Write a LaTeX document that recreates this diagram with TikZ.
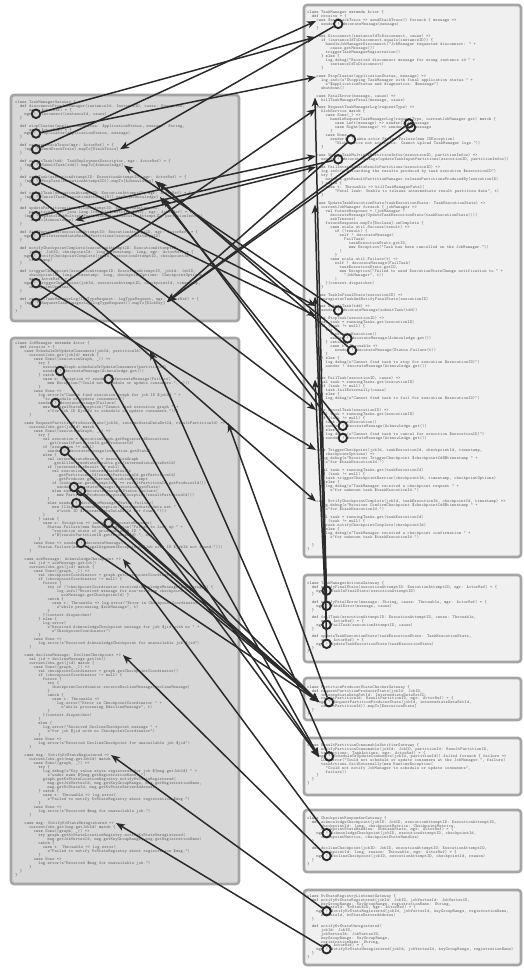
\documentclass[tikz,border=0pt]{standalone}
\usetikzlibrary{arrows.meta}

\definecolor{leftfill}{HTML}{D7D7D7}
\definecolor{rightfill}{HTML}{F0F0F0}
\definecolor{frame}{HTML}{A5A5A5}
\definecolor{ink}{HTML}{2B2B2B}
\definecolor{codeink}{HTML}{666666}

\newlength{\codechar}
\setlength{\codechar}{2.31pt}
\newcommand{\kw}[1]{\textbf{#1}}
\newcommand{\cind}[1]{\hspace*{#1\codechar}}
% one paragraph per listing, lines ended with \\ (line pitch as first argument)
\newcommand{\codeblock}[2]{\parbox[t]{300pt}{\fontsize{4.4}{#1}\selectfont\ttfamily
    \lineskiplimit=-100pt\lineskip=0pt\color{codeink}#2}}

\begin{document}
\begin{tikzpicture}[x=1pt, y=-1pt,
    panelL/.style={draw=frame, line width=2.6pt, fill=leftfill, rounded corners=3pt},
    panelR/.style={draw=frame, line width=2.6pt, fill=rightfill, rounded corners=3pt},
    code/.style={anchor=north west, inner sep=0pt},
    port/.style={circle, draw=ink, line width=1.9pt, minimum size=8.5pt, inner sep=0pt},
    msg/.style={draw=ink, line width=1.5pt, -{Stealth[length=9pt, width=7pt, inset=2.5pt]}}]
    \useasboundingbox (0,0) rectangle (524,968);

    % Draw the two sender-side panels and the six receiver-side panels
    \draw[panelL] (11,95) rectangle (239,321);
    \draw[panelL] (11,338) rectangle (239,884);
    \draw[panelR] (304,5) rectangle (521,557);
    \draw[panelR] (304,575) rectangle (521,662);
    \draw[panelR] (304,678) rectangle (521,720);
    \draw[panelR] (304,738) rectangle (521,795);
    \draw[panelR] (304,810) rectangle (521,872);
    \draw[panelR] (304,890) rectangle (521,965);

    % TaskManagerGateway
    \node[code] (tmgCode) at (15,100.2) {\codeblock{3.94}{%
\kw{class} TaskManagerGateway \{\\
\cind{2}\kw{def} disconnectFromJobManager(instanceId: InstanceID, cause: Exception,\\
\cind{6}mgr: ActorRef) = \{\\
\cind{4}mgr ! Disconnect(instanceId, cause)\\
\cind{2}\}\\
~\\
\cind{2}\kw{def} stopCluster(applicationStatus: ApplicationStatus, message: String,\\
\cind{6}mgr: ActorRef) = \{\\
\cind{4}mgr ! StopCluster(applicationStatus, message)\\
\cind{2}\}\\
~\\
\cind{2}\kw{def} requestStackTrace(mgr: ActorRef) = \{\\
\cind{4}(mgr ? SendStackTrace).mapTo[StackTrace]\\
\cind{2}\}\\
~\\
\cind{2}\kw{def} submitTask(tdd: TaskDeploymentDescriptor, mgr: ActorRef) = \{\\
\cind{4}(mgr ? SubmitTask(tdd)).mapTo[Acknowledge]\\
\cind{2}\}\\
~\\
\cind{2}\kw{def} stopTask(executionAttemptID: ExecutionAttemptID, mgr: ActorRef) = \{\\
\cind{4}(mgr ? StopTask(executionAttemptID)).mapTo[Acknowledge]\\
\cind{2}\}\\
~\\
\cind{2}\kw{def} cancelTask(executionAttemptID: ExecutionAttemptID, mgr: ActorRef) = \{\\
\cind{4}(mgr ? CancelTask(executionAttemptID)).mapTo[Acknowledge]\\
\cind{2}\}\\
~\\
\cind{2}\kw{def} updatePartitions(executionAttemptID: ExecutionAttemptID,\\
\cind{6}partitionInfos: java.lang.Iterable[PartitionInfo], mgr: ActorRef) = \{\\
\cind{4}(mgr ? UpdateTaskMultiplePartitionInfos(executionAttemptID, partitionInfos))\\
\cind{6}.mapTo[Acknowledge]\\
\cind{2}\}\\
~\\
\cind{2}\kw{def} failPartition(executionAttemptID: ExecutionAttemptID, mgr: ActorRef) = \{\\
\cind{4}mgr ! FailIntermediateResultPartitions(executionAttemptID)\\
\cind{2}\}\\
~\\
\cind{2}\kw{def} notifyCheckpointComplete(executionAttemptID: ExecutionAttemptID,\\
\cind{6}jobId: JobID, checkpointId: long, timestamp: long, mgr: ActorRef) = \{\\
\cind{4}mgr ! NotifyCheckpointComplete(jobId, executionAttemptID, checkpointId,\\
\cind{6}timestamp)\\
\cind{2}\}\\
~\\
\cind{2}\kw{def} triggerCheckpoint(executionAttemptID: ExecutionAttemptID, jobId: JobID,\\
\cind{6}checkpointId: long, timestamp: long, checkpointOptions: CheckpointOptions,\\
\cind{6}mgr: ActorRef) = \{\\
\cind{4}mgr ! TriggerCheckpoint(jobId, executionAttemptID, checkpointId, timestamp,\\
\cind{6}checkpointOptions)\\
\cind{2}\}\\
~\\
\cind{2}\kw{def} requestTaskManagerLog(logTypeRequest: LogTypeRequest, mgr: ActorRef) = \{\\
\cind{4}(mgr ? RequestTaskManagerLog(logTypeRequest)).mapTo[BlobKey]\\
\cind{2}\}\\
\}}};

    % JobManager
    \node[code] (jmCode) at (15,341.2) {\codeblock{4}{%
\kw{class} JobManager \kw{extends} Actor \{\\
\cind{2}\kw{def} receive = \{\\
\cind{4}\kw{case} ScheduleOrUpdateConsumers(jobId, partitionId) =>\\
\cind{6}currentJobs.get(jobId) \kw{match} \{\\
\cind{8}\kw{case} Some((executionGraph, \_)) =>\\
\cind{10}\kw{try} \{\\
\cind{12}executionGraph.scheduleOrUpdateConsumers(partitionId)\\
\cind{12}sender ! decorateMessage(Acknowledge.get())\\
\cind{10}\} \kw{catch} \{\\
\cind{12}\kw{case} e: Exception => sender ! decorateMessage(Failure(\\
\cind{14}\kw{new} Exception("Could not schedule or update consumers.", e)))\\
\cind{10}\}\\
\cind{8}\kw{case} None =>\\
\cind{10}log.error(s"Cannot find execution graph for job ID \$jobId " +\\
\cind{12}"to schedule or update consumers.")\\
\cind{10}sender ! decorateMessage(Failure(\\
\cind{12}\kw{new} IllegalStateException("Cannot find execution graph " +\\
\cind{14}s"for job ID \$jobId to schedule or update consumers.")))\\
\cind{6}\}\\
~\\
\cind{4}\kw{case} RequestPartitionProducerState(jobId, intermediateDataSetId, resultPartitionId) =>\\
\cind{6}currentJobs.get(jobId) \kw{match} \{\\
\cind{8}\kw{case} Some((executionGraph, \_)) =>\\
\cind{10}\kw{try} \{\\
\cind{12}\kw{val} execution = executionGraph.getRegisteredExecutions\\
\cind{14}.get(resultPartitionId.getProducerId)\\
\cind{12}\kw{if} (execution != \kw{null})\\
\cind{14}sender ! decorateMessage(execution.getState)\\
\cind{12}\kw{else} \{\\
\cind{14}\kw{val} intermediateResult = executionGraph\\
\cind{16}.getAllIntermediateResults.get(intermediateDataSetId)\\
\cind{14}\kw{if} (intermediateResult != \kw{null}) \{\\
\cind{16}\kw{val} execution = intermediateResult\\
\cind{18}.getPartitionById(resultPartitionId.getPartitionId)\\
\cind{18}.getProducer.getCurrentExecutionAttempt\\
\cind{16}\kw{if} (execution.getAttemptId() == resultPartitionId.getProducerId())\\
\cind{18}sender ! decorateMessage(execution.getState)\\
\cind{16}\kw{else} sender ! decorateMessage(Status.Failure(\\
\cind{18}\kw{new} PartitionProducerDisposedException(resultPartitionId)))\\
\cind{14}\}\\
\cind{14}\kw{else} sender ! decorateMessage(Status.Failure(\\
\cind{16}\kw{new} IllegalArgumentException("Intermediate data set " +\\
\cind{18}s"with ID \$intermediateDataSetId not found.")))\\
\cind{12}\}\\
\cind{10}\} \kw{catch} \{\\
\cind{12}\kw{case} e: Exception => sender ! decorateMessage(\\
\cind{14}Status.Failure(\kw{new} RuntimeException("Failed to look up " +\\
\cind{16}"execution state of producer with ID " +\\
\cind{16}s"\$\{resultPartitionId.getProducerId\}.", e)))\\
\cind{10}\}\\
\cind{8}\kw{case} None => sender ! decorateMessage(\\
\cind{10}Status.Failure(\kw{new} IllegalArgumentException(s"Job with ID \$jobId not found.")))\\
\cind{6}\}\\
~\\
\cind{4}\kw{case} ackMessage: AcknowledgeCheckpoint =>\\
\cind{6}\kw{val} jid = ackMessage.getJob()\\
\cind{6}currentJobs.get(jid) \kw{match} \{\\
\cind{8}\kw{case} Some((graph, \_)) =>\\
\cind{10}\kw{val} checkpointCoordinator = graph.getCheckpointCoordinator()\\
\cind{10}\kw{if} (checkpointCoordinator != \kw{null}) \{\\
\cind{12}future \{\\
\cind{14}\kw{try} \kw{if} (!checkpointCoordinator.receiveAcknowledgeMessage(ackMessage)) \{\\
\cind{18}log.info("Received message for non-existing checkpoint " +\\
\cind{20}ackMessage.getCheckpointId) \}\\
\cind{14}\kw{catch} \{\\
\cind{16}\kw{case} t: Throwable => log.error("Error in CheckpointCoordinator " +\\
\cind{18}s"while processing \$ackMessage", t)\\
\cind{14}\}\\
\cind{12}\}(context.dispatcher)\\
\cind{10}\} \kw{else} \{\\
\cind{12}log.error(\\
\cind{14}s"Received AcknowledgeCheckpoint message for job \$jid with no " +\\
\cind{16}s"CheckpointCoordinator")\\
\cind{10}\}\\
\cind{8}\kw{case} None =>\\
\cind{10}log.error(s"Received AcknowledgeCheckpoint for unavailable job \$jid")\\
\cind{6}\}\\
~\\
\cind{4}\kw{case} declineMessage: DeclineCheckpoint =>\\
\cind{6}\kw{val} jid = declineMessage.getJob()\\
\cind{6}currentJobs.get(jid) \kw{match} \{\\
\cind{8}\kw{case} Some((graph, \_)) =>\\
\cind{10}\kw{val} checkpointCoordinator = graph.getCheckpointCoordinator()\\
\cind{10}\kw{if} (checkpointCoordinator != \kw{null}) \{\\
\cind{12}future \{\\
\cind{14}\kw{try} \{\\
\cind{16}checkpointCoordinator.receiveDeclineMessage(declineMessage)\\
\cind{14}\}\\
\cind{14}\kw{catch} \{\\
\cind{16}\kw{case} t: Throwable =>\\
\cind{18}log.error("Error in CheckpointCoordinator " +\\
\cind{20}s"while processing \$declineMessage", t)\\
\cind{14}\}\\
\cind{12}\}(context.dispatcher)\\
\cind{10}\}\\
\cind{10}\kw{else} \{\\
\cind{12}log.error("Received DeclineCheckpoint message " +\\
\cind{14}s"for job \$jid with no CheckpointCoordinator")\\
\cind{10}\}\\
\cind{8}\kw{case} None =>\\
\cind{10}log.error(s"Received DeclineCheckpoint for unavailable job \$jid")\\
\cind{6}\}\\
~\\
\cind{4}\kw{case} msg: NotifyKvStateRegistered =>\\
\cind{6}currentJobs.get(msg.getJobId) \kw{match} \{\\
\cind{8}\kw{case} Some((graph, \_)) =>\\
\cind{10}\kw{try} \{\\
\cind{12}log.debug(s"Key value state registered for job \$\{msg.getJobId\} " +\\
\cind{14}s"under name \$\{msg.getRegistrationName\}.")\\
\cind{12}graph.getKvStateLocationRegistry.notifyKvStateRegistered(\\
\cind{14}msg.getJobVertexId, msg.getKeyGroupRange, msg.getRegistrationName,\\
\cind{14}msg.getKvStateId, msg.getKvStateServerAddress)\\
\cind{10}\} \kw{catch} \{\\
\cind{12}\kw{case} t: Throwable => log.error(\\
\cind{14}s"Failed to notify KvStateRegistry about registration \$msg.")\\
\cind{10}\}\\
\cind{8}\kw{case} None =>\\
\cind{10}log.error(s"Received \$msg for unavailable job.")\\
\cind{6}\}\\
~\\
\cind{4}\kw{case} msg: NotifyKvStateUnregistered =>\\
\cind{6}currentJobs.get(msg.getJobId) \kw{match} \{\\
\cind{8}\kw{case} Some((graph, \_)) =>\\
\cind{10}\kw{try} graph.getKvStateLocationRegistry.notifyKvStateUnregistered(\\
\cind{14}msg.getJobVertexId, msg.getKeyGroupRange, msg.getRegistrationName)\\
\cind{10}\kw{catch} \{\\
\cind{12}\kw{case} t: Throwable => log.error(\\
\cind{14}s"Failed to notify KvStateRegistry about registration \$msg.")\\
\cind{10}\}\\
\cind{8}\kw{case} None =>\\
\cind{10}log.error(s"Received \$msg for unavailable job.")\\
\cind{6}\}\\
\cind{2}\}\\
\}}};

    % TaskManager
    \node[code] (tmCode) at (307,10.2) {\codeblock{3.98}{%
\kw{class} TaskManager \kw{extends} Actor \{\\
\cind{2}\kw{def} receive = \{\\
\cind{4}\kw{case} SendStackTrace => sendStackTrace() foreach \{ message =>\\
\cind{6}sender ! decorateMessage(message)\\
\cind{4}\}\\
~\\
\cind{4}\kw{case} Disconnect(instanceIdToDisconnect, cause) =>\\
\cind{6}\kw{if} (instanceIdToDisconnect.equals(instanceID)) \{\\
\cind{8}handleJobManagerDisconnect("JobManager requested disconnect: " +\\
\cind{10}cause.getMessage())\\
\cind{8}triggerTaskManagerRegistration()\\
\cind{6}\} \kw{else} \{\\
\cind{8}log.debug("Received disconnect message for wrong instance id " +\\
\cind{10}instanceIdToDisconnect)\\
\cind{6}\}\\
~\\
\cind{4}\kw{case} StopCluster(applicationStatus, message) =>\\
\cind{6}log.info(s"Stopping TaskManager with final application status " +\\
\cind{8}s"\$applicationStatus and diagnostics: \$message")\\
\cind{6}shutdown()\\
~\\
\cind{4}\kw{case} FatalError(message, cause) =>\\
\cind{6}killTaskManagerFatal(message, cause)\\
~\\
\cind{4}\kw{case} RequestTaskManagerLog(requestType) =>\\
\cind{6}blobService \kw{match} \{\\
\cind{8}\kw{case} Some(\_) =>\\
\cind{10}handleRequestTaskManagerLog(requestType, currentJobManager.get) \kw{match} \{\\
\cind{12}\kw{case} Left(message) => sender() ! message\\
\cind{12}\kw{case} Right(message) => sender() ! message\\
\cind{10}\}\\
\cind{8}\kw{case} None =>\\
\cind{10}sender() ! akka.actor.Status.Failure(\kw{new} IOException(\\
\cind{12}"BlobService not available. Cannot upload TaskManager logs."))\\
\cind{6}\}\\
~\\
\cind{4}\kw{case} UpdateTaskMultiplePartitionInfos(executionID, partitionInfos) =>\\
\cind{6}sender ! decorateMessage(updateTaskInputPartitions(executionID, partitionInfos))\\
~\\
\cind{4}\kw{case} FailIntermediateResultPartitions(executionID) =>\\
\cind{6}log.info(s"Discarding the results produced by task execution \$executionID")\\
\cind{6}\kw{try} \{\\
\cind{8}network.getResultPartitionManager.releasePartitionsProducedBy(executionID)\\
\cind{6}\} \kw{catch} \{\\
\cind{8}\kw{case} t: Throwable => killTaskManagerFatal(\\
\cind{12}"Fatal leak: Unable to release intermediate result partition data", t)\\
\cind{6}\}\\
~\\
\cind{4}\kw{case} UpdateTaskExecutionState(taskExecutionState: TaskExecutionState) =>\\
\cind{6}currentJobManager foreach \{ jobManager =>\\
\cind{8}\kw{val} futureResponse = (jobManager ?\\
\cind{10}decorateMessage(UpdateTaskExecutionState(taskExecutionState)))(\\
\cind{10}askTimeout)\\
\cind{8}futureResponse.mapTo[Boolean].onComplete \{\\
\cind{10}\kw{case} scala.util.Success(result) =>\\
\cind{12}\kw{if} (!result) \{\\
\cind{14}self ! decorateMessage(\\
\cind{16}FailTask(\\
\cind{18}taskExecutionState.getID,\\
\cind{18}\kw{new} Exception("Task has been cancelled on the JobManager."))\\
\cind{14})\\
\cind{12}\}\\
\cind{10}\kw{case} scala.util.Failure(t) =>\\
\cind{12}self ! decorateMessage(FailTask(\\
\cind{14}taskExecutionState.getID,\\
\cind{14}\kw{new} Exception("Failed to send ExecutionStateChange notification to " +\\
\cind{16}"JobManager", t))\\
\cind{12})\\
\cind{8}\}(context.dispatcher)\\
\cind{6}\}\\
~\\
\cind{4}\kw{case} TaskInFinalState(executionID) =>\\
\cind{6}unregisterTaskAndNotifyFinalState(executionID)\\
~\\
\cind{4}\kw{case} SubmitTask(tdd) =>\\
\cind{6}sender ! decorateMessage(submitTask(tdd))\\
~\\
\cind{4}\kw{case} StopTask(executionID) =>\\
\cind{6}\kw{val} task = runningTasks.get(executionID)\\
\cind{6}\kw{if} (task != \kw{null}) \{\\
\cind{8}\kw{try} \{\\
\cind{10}task.stopExecution()\\
\cind{10}sender ! decorateMessage(Acknowledge.get())\\
\cind{8}\} \kw{catch} \{\\
\cind{10}\kw{case} t: Throwable =>\\
\cind{12}sender ! decorateMessage(Status.Failure(t))\\
\cind{8}\}\\
\cind{6}\} \kw{else} \{\\
\cind{8}log.debug(s"Cannot find task to stop for execution \$executionID)")\\
\cind{8}sender ! decorateMessage(Acknowledge.get())\\
\cind{6}\}\\
~\\
\cind{4}\kw{case} FailTask(executionID, cause) =>\\
\cind{6}\kw{val} task = runningTasks.get(executionID)\\
\cind{6}\kw{if} (task != \kw{null}) \{\\
\cind{8}task.failExternally(cause)\\
\cind{6}\} \kw{else} \{\\
\cind{8}log.debug(s"Cannot find task to fail for execution \$executionID)")\\
\cind{6}\}\\
~\\
\cind{4}\kw{case} CancelTask(executionID) =>\\
\cind{6}\kw{val} task = runningTasks.get(executionID)\\
\cind{6}\kw{if} (task != \kw{null}) \{\\
\cind{8}task.cancelExecution()\\
\cind{8}sender ! decorateMessage(Acknowledge.get())\\
\cind{6}\} \kw{else} \{\\
\cind{8}log.debug(s"Cannot find task to cancel for execution \$executionID)")\\
\cind{8}sender ! decorateMessage(Acknowledge.get())\\
\cind{6}\}\\
~\\
\cind{4}\kw{case} TriggerCheckpoint(jobId, taskExecutionId, checkpointId, timestamp,\\
\cind{8}checkpointOptions) =>\\
\cind{6}log.debug(s"Receiver TriggerCheckpoint \$checkpointId@\$timestamp " +\\
\cind{8}s"for \$taskExecutionId.")\\
~\\
\cind{6}\kw{val} task = runningTasks.get(taskExecutionId)\\
\cind{6}\kw{if} (task != \kw{null}) \{\\
\cind{8}task.triggerCheckpointBarrier(checkpointId, timestamp, checkpointOptions)\\
\cind{6}\} \kw{else} \{\\
\cind{8}log.debug(s"TaskManager received a checkpoint request " +\\
\cind{10}s"for unknown task \$taskExecutionId.")\\
\cind{6}\}\\
~\\
\cind{4}\kw{case} NotifyCheckpointComplete(jobId, taskExecutionId, checkpointId, timestamp) =>\\
\cind{6}log.debug(s"Receiver ConfirmCheckpoint \$checkpointId@\$timestamp " +\\
\cind{8}s"for \$taskExecutionId.")\\
~\\
\cind{6}\kw{val} task = runningTasks.get(taskExecutionId)\\
\cind{6}\kw{if} (task != \kw{null}) \{\\
\cind{8}task.notifyCheckpointComplete(checkpointId)\\
\cind{6}\} \kw{else} \{\\
\cind{8}log.debug(s"TaskManager received a checkpoint confirmation " +\\
\cind{10}s"for unknown task \$taskExecutionId.")\\
\cind{6}\}\\
\cind{2}\}\\
\}}};

    % TaskManagerActionsGateway
    \node[code] (tmagCode) at (307,581.2) {\codeblock{3.8}{%
\kw{class} TaskManagerActionsGateway \{\\
\cind{2}\kw{def} notifyFinalState(executionAttemptID: ExecutionAttemptID, mgr: ActorRef) = \{\\
\cind{4}mgr ! TaskInFinalState(executionAttemptID)\\
\cind{2}\}\\
~\\
\cind{2}\kw{def} notifyFatalError(message: String, cause: Throwable, mgr: ActorRef) = \{\\
\cind{4}mgr ! FatalError(message, cause)\\
\cind{2}\}\\
~\\
\cind{2}\kw{def} failTask(executionAttemptID: ExecutionAttemptID, cause: Throwable,\\
\cind{6}mgr: ActorRef) = \{\\
\cind{4}mgr ! FailTask(executionAttemptID, cause)\\
\cind{2}\}\\
~\\
\cind{2}\kw{def} updateTaskExecutionState(taskExecutionState: TaskExecutionState,\\
\cind{6}mgr: ActorRef) = \{\\
\cind{4}mgr ! UpdateTaskExecutionState(taskExecutionState)\\
\cind{2}\}\\
\}}};

    % PartitionProducerStateCheckerGateway
    \node[code] (ppscgCode) at (307,685.2) {\codeblock{3.8}{%
\kw{class} PartitionProducerStateCheckerGateway \{\\
\cind{2}\kw{def} requestPartitionProducerState(jobId: JobID,\\
\cind{6}intermediateDataSetId: IntermediateDataSetID,\\
\cind{6}resultPartitionId: ResultPartitionID, mgr: ActorRef) = \{\\
\cind{4}(mgr ? RequestPartitionProducerState(jobId, intermediateDataSetId,\\
\cind{6}resultPartitionId)).mapTo[ExecutionState]\\
\cind{2}\}\\
\}}};

    % ResultPartitionConsumableNotifierGateway
    \node[code] (rpcngCode) at (307,743.2) {\codeblock{3.8}{%
\kw{class} ResultPartitionConsumableNotifierGateway \{\\
\cind{2}\kw{def} notifyPartitionConsumable(jobId: JobID, partitionId: ResultPartitionID,\\
\cind{6}taskActions: TaskActions, mgr: ActorRef) = \{\\
\cind{4}(mgr ? ScheduleOrUpdateConsumers(jobId, partitionId)).failed foreach \{ failure =>\\
\cind{6}LOG.error("Could not schedule or update consumers at the JobManager.", failure)\\
\cind{6}taskActions.failExternally(\kw{new} RuntimeException(\\
\cind{8}"Could not notify JobManager to schedule or update consumers",\\
\cind{8}failure))\\
\cind{4}\}\\
\cind{2}\}\\
\}}};

    % CheckpointResponderGateway
    \node[code] (crgCode) at (307,816.2) {\codeblock{3.8}{%
\kw{class} CheckpointResponderGateway \{\\
\cind{2}\kw{def} acknowledgeCheckpoint(jobID: JobID, executionAttemptID: ExecutionAttemptID,\\
\cind{6}checkpointId: long, checkpointMetrics: CheckpointMetrics,\\
\cind{6}checkpointStateHandles: SubtaskState, mgr: ActorRef) = \{\\
\cind{4}mgr ! AcknowledgeCheckpoint(jobID, executionAttemptID, checkpointId,\\
\cind{6}checkpointMetrics, checkpointStateHandles)\\
\cind{2}\}\\
~\\
\cind{2}\kw{def} declineCheckpoint(jobID: JobID, executionAttemptID: ExecutionAttemptID,\\
\cind{6}checkpointId: long, reason: Throwable, mgr: ActorRef) = \{\\
\cind{4}mgr ! DeclineCheckpoint(jobID, executionAttemptID, checkpointId, reason)\\
\cind{2}\}\\
\}}};

    % KvStateRegistryListenerGateway
    \node[code] (kvCode) at (307,894.2) {\codeblock{3.8}{%
\kw{class} KvStateRegistryListenerGateway \{\\
\cind{2}\kw{def} notifyKvStateRegistered(jobId: JobID, jobVertexId: JobVertexID,\\
\cind{6}keyGroupRange: KeyGroupRange, registrationName: String,\\
\cind{6}kvStateId: KvStateID, mgr: ActorRef) = \{\\
\cind{4}mgr ! NotifyKvStateRegistered(jobId, jobVertexId, keyGroupRange, registrationName,\\
\cind{6}kvStateId, kvStateServerAddress)\\
\cind{2}\}\\
~\\
\cind{2}\kw{def} notifyKvStateUnregistered(\\
\cind{6}jobId: JobID,\\
\cind{6}jobVertexId: JobVertexID,\\
\cind{6}keyGroupRange: KeyGroupRange,\\
\cind{6}registrationName: String,\\
\cind{6}mgr: ActorRef) = \{\\
\cind{4}mgr ! NotifyKvStateUnregistered(jobId, jobVertexId, keyGroupRange, registrationName)\\
\cind{2}\}\\
\}}};

    % Send points (circles on the ! and ? of each message)
    \foreach \name/\x/\y in {tmgDisc/36/113.8, tmgStopCl/36/133.5, tmgStack/36/149.3,
        tmgSubmit/36/165, tmgStopTask/36/180.8, tmgCancel/36/196.6, tmgUpdate/36/216.3,
        tmgFailPart/36/236, tmgNotifyCp/36/255.7, tmgTrigger/36/283.2, tmgLog/36/303,
        jmSchedAck/60/371, jmSchedFail/108.6/379, jmSchedNone/55.4/403,
        jmProdState/64.7/451, jmProdStateB/74/487, jmProdDisposed/80.9/491,
        jmProdNoSet/76.2/503, jmProdError/108.6/523, jmProdNoJob/80.9/543,
        tmStackRep/338.2/23.9, tmLogLeft/409/123.4, tmLogRight/411/127.4,
        tmLogFail/351/139.4, tmUpdateRep/338.2/159.3, tmSubmitRep/338.2/310.5,
        tmStopAck/347.4/338.4, tmStopFail/352/350.3, tmCancelAck/342.8/425.9,
        tmCancelElse/342.8/437.9,
        tmagFinal/326.6/590.6, tmagFatal/326.6/605.8, tmagFail/326.6/624.8,
        tmagExec/326.6/643.8, ppscgReq/329/702.2, rpcngNotify/329/756.4,
        crgAck/326.6/833.2, crgDecline/326.6/856, kvReg/326.6/911.2, kvUnreg/326.6/949.2}
        \node[port] (\name) at (\x,\y) {};

    % Receive points
    \coordinate (tmSendStack) at (316,21);
    \coordinate (tmDisc) at (316,37);
    \coordinate (tmStopCl) at (316,77);
    \coordinate (tmFatal) at (315,97.5);
    \coordinate (tmLog) at (316,109);
    \coordinate (tmUpdate) at (316,156);
    \coordinate (tmFailPart) at (316,167);
    \coordinate (tmExecState) at (315,204.5);
    \coordinate (tmFinal) at (315,296.5);
    \coordinate (tmSubmit) at (316,306);
    \coordinate (tmStopTask) at (316,316);
    \coordinate (tmFailTask) at (315,379.5);
    \coordinate (tmCancel) at (316,410);
    \coordinate (tmTrigger) at (316,450);
    \coordinate (tmNotifyCp) at (316,501.5);
    \coordinate (tmgStackRet) at (120,149.3);
    \coordinate (tmgSubmitRet) at (124,165.5);
    \coordinate (tmgStopRetA) at (155,181);
    \coordinate (tmgStopRetB) at (158,182);
    \coordinate (tmgCancelRetA) at (160,197);
    \coordinate (tmgCancelRetB) at (163,198);
    \coordinate (tmgUpdateRet) at (75,220.2);
    \coordinate (tmgLogRet) at (167,302);
    \coordinate (jmSched) at (150,351);
    \coordinate (jmProd) at (228,423);
    \coordinate (jmAck) at (123,559);
    \coordinate (jmDecline) at (123,655);
    \coordinate (jmKvReg) at (111,755);
    \coordinate (jmKvUnreg) at (116,823);
    \coordinate (ppscgRet) at (319,702);
    \coordinate (rpcngRet) at (319,757);

    % Messages
    \foreach \from/\to in {tmgDisc/tmDisc, tmgStopCl/tmStopCl, tmgStack/tmSendStack,
        tmgSubmit/tmSubmit, tmgStopTask/tmStopTask, tmgCancel/tmCancel,
        tmgUpdate/tmUpdate, tmgFailPart/tmFailPart, tmgNotifyCp/tmNotifyCp,
        tmgTrigger/tmTrigger, tmgLog/tmLog,
        tmStackRep/tmgStackRet, tmLogLeft/tmgLogRet, tmLogRight/tmgLogRet,
        tmLogFail/tmgLogRet, tmUpdateRep/tmgUpdateRet, tmSubmitRep/tmgSubmitRet,
        tmStopAck/tmgStopRetA, tmStopFail/tmgStopRetB, tmCancelAck/tmgCancelRetA,
        tmCancelElse/tmgCancelRetB,
        tmagFinal/tmFinal, tmagFatal/tmFatal, tmagFail/tmFailTask, tmagExec/tmExecState,
        ppscgReq/jmProd, rpcngNotify/jmSched, crgAck/jmAck, crgDecline/jmDecline,
        kvReg/jmKvReg, kvUnreg/jmKvUnreg,
        jmSchedAck/rpcngRet, jmSchedFail/rpcngRet, jmSchedNone/rpcngRet,
        jmProdState/ppscgRet, jmProdStateB/ppscgRet, jmProdDisposed/ppscgRet,
        jmProdNoSet/ppscgRet, jmProdError/ppscgRet, jmProdNoJob/ppscgRet}
        \draw[msg] (\from) -- (\to);
\end{tikzpicture}
\end{document}
